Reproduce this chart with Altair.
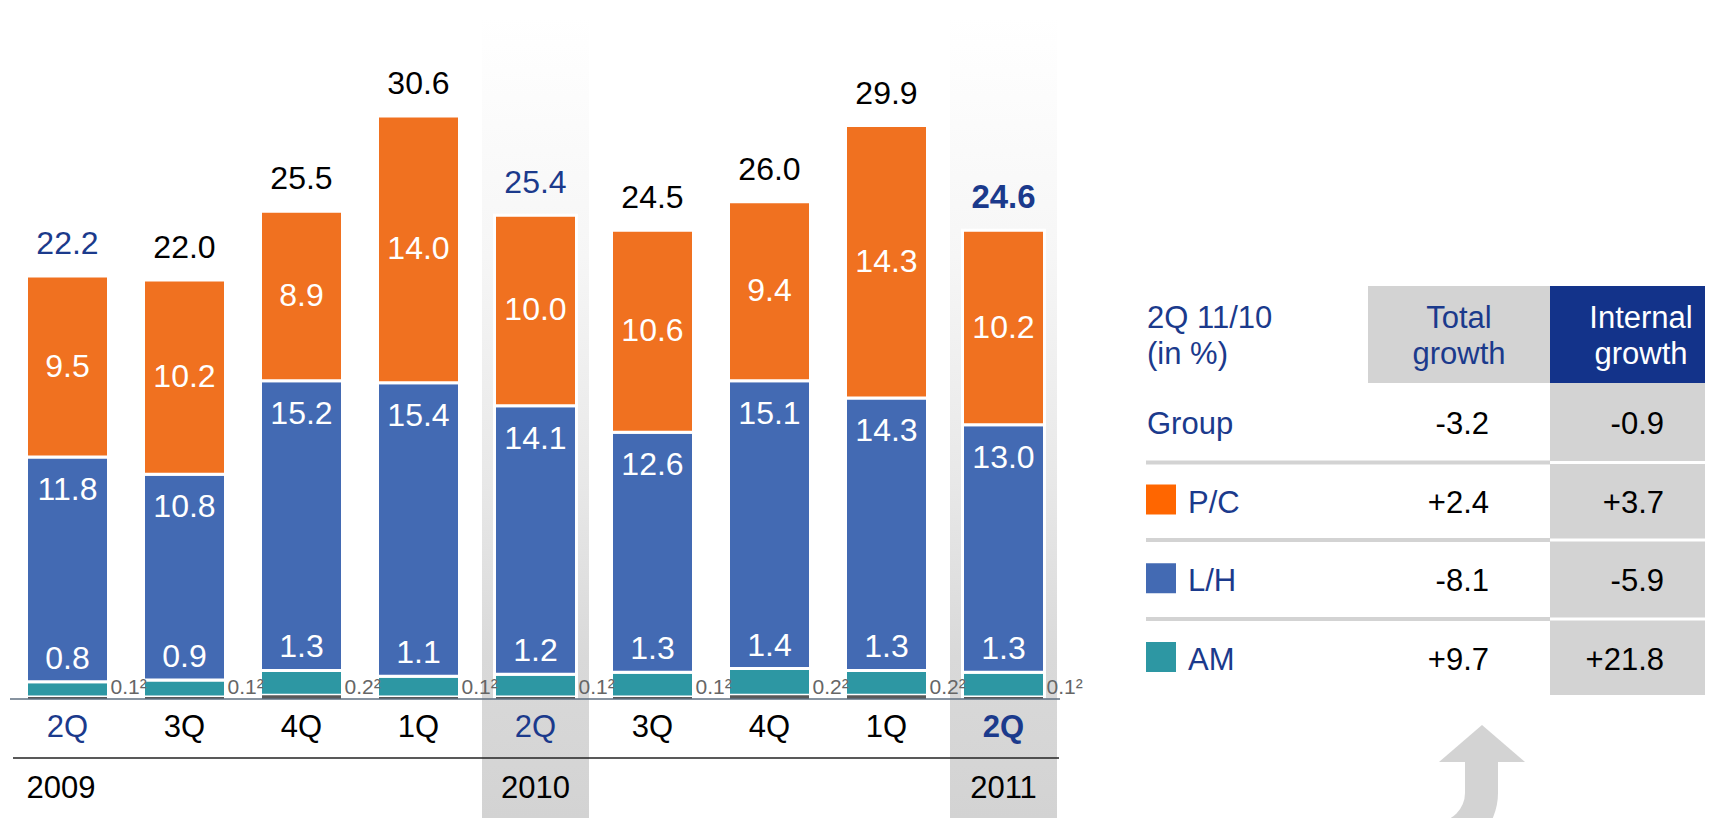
import math
import altair as alt
import pandas as pd

# ---------------- data ----------------
keys = ["2Q09", "3Q09", "4Q09", "1Q10", "2Q10", "3Q10", "4Q10", "1Q11", "2Q11"]
quarters = ["2Q", "3Q", "4Q", "1Q", "2Q", "3Q", "4Q", "1Q", "2Q"]
years = ["2009", "", "", "", "2010", "", "", "", "2011"]
other = [0.1, 0.1, 0.2, 0.1, 0.1, 0.1, 0.2, 0.2, 0.1]
am = [0.8, 0.9, 1.3, 1.1, 1.2, 1.3, 1.4, 1.3, 1.3]
lh = [11.8, 10.8, 15.2, 15.4, 14.1, 12.6, 15.1, 14.3, 13.0]
pc = [9.5, 10.2, 8.9, 14.0, 10.0, 10.6, 9.4, 14.3, 10.2]
totals = [22.2, 22.0, 25.5, 30.6, 25.4, 24.5, 26.0, 29.9, 24.6]
shaded_keys = ["2Q10", "2Q11"]
latest = "2Q11"

table_rows = ["Group", "P/C", "L/H", "AM"]
total_growth = ["-3.2", "+2.4", "-8.1", "+9.7"]
internal_growth = ["-0.9", "+3.7", "-5.9", "+21.8"]

# ---------------- styles ----------------
FONT = "Liberation Sans"
NAVY = "#1B3A8C"
NAVY_BOX = "#13338A"
GRAY = "#D3D3D3"
seg_names = ["Other", "AM", "L/H", "P/C"]
seg_colors = ["#595959", "#2D97A3", "#436AB3", "#F07120"]
legend_colors = ["#FF6600", "#436AB3", "#2D97A3"]

# ---------------- frames ----------------
bar_df = pd.DataFrame({"key": keys, "quarter": quarters, "year": years,
                       "other": other, "am": am, "lh": lh, "pc": pc, "total": totals})
bar_df["am_top"] = bar_df["other"] + bar_df["am"]
bar_df["lh_top"] = bar_df["am_top"] + bar_df["lh"]
bar_df["pc_top"] = bar_df["lh_top"] + bar_df["pc"]
bar_df["total_lbl"] = bar_df["total"].map(lambda v: f"{v:.1f}")
bar_df["am_lbl"] = bar_df["am"].map(lambda v: f"{v:.1f}")
bar_df["lh_lbl"] = bar_df["lh"].map(lambda v: f"{v:.1f}")
bar_df["pc_lbl"] = bar_df["pc"].map(lambda v: f"{v:.1f}")
bar_df["other_lbl"] = bar_df["other"].map(lambda v: f"{v:.1f}\u00b2")

seg_rows = []
for i, k in enumerate(keys):
    base = 0.0
    for name, vals in zip(seg_names, [other, am, lh, pc]):
        seg_rows.append({"key": k, "seg": name, "y0": base, "y1": base + vals[i]})
        base += vals[i]
seg_df = pd.DataFrame(seg_rows)

shade_df = bar_df[bar_df["key"].isin(shaded_keys)]
year_df = bar_df[bar_df["year"] != ""]
tab_df = pd.DataFrame({"row": table_rows, "tg": total_growth, "ig": internal_growth})
dummy = pd.DataFrame({"a": [0]})

# ---------------- scales ----------------
x_scale = alt.Scale(domain=keys, range=[1, 1054], paddingInner=0.2991, paddingOuter=0.14955)
y_scale = alt.Scale(domain=[0, 30], range=[691, 119.5], nice=False, zero=False)
X = alt.X("key:N", scale=x_scale, axis=None)
row_scale = alt.Scale(domain=table_rows, range=[426, 662], padding=0)
sq_scale = alt.Scale(domain=table_rows[1:], range=[491.5, 649], padding=0)

is2q = alt.datum.quarter == "2Q"
lab_color = alt.condition(is2q, alt.value(NAVY), alt.value("black"))

grad = alt.LinearGradient(gradient="linear", x1=0, y1=0, x2=0, y2=1, stops=[
    alt.GradientStop(color="#ffffff", offset=0),
    alt.GradientStop(color="#f6f6f6", offset=0.3),
    alt.GradientStop(color="#e8e8e8", offset=0.58),
    alt.GradientStop(color="#d9d9d9", offset=0.8),
    alt.GradientStop(color="#d3d3d3", offset=1)])

layers = []

# shaded columns
layers.append(alt.Chart(shade_df).mark_bar(width=107, color=grad).encode(
    x=X, y=alt.value(9), y2=alt.value(810)))

# stacked segments
seg_color = alt.Color("seg:N", scale=alt.Scale(domain=seg_names, range=seg_colors), legend=None)
layers.append(alt.Chart(seg_df).transform_filter("datum.seg != 'Other'").mark_bar(
    stroke="white", strokeWidth=3).encode(
    x=X, y=alt.Y("y1:Q", scale=y_scale, axis=None), y2="y0:Q", color=seg_color))
layers.append(alt.Chart(seg_df).transform_filter("datum.seg == 'Other'").mark_bar(
    width=79, strokeWidth=0).encode(
    x=X, y=alt.Y("y1:Q", scale=y_scale, axis=None), y2="y0:Q", color=seg_color))

# axis lines
layers.append(alt.Chart(dummy).mark_rule(color="#5F6F80", strokeWidth=1.5).encode(
    x=alt.value(2), x2=alt.value(1052), y=alt.value(691)))
layers.append(alt.Chart(dummy).mark_rule(color="#222222", strokeWidth=1.5).encode(
    x=alt.value(5), x2=alt.value(1051), y=alt.value(750)))

# total labels
txt = dict(font=FONT, fontSize=32)
layers.append(alt.Chart(bar_df).transform_filter(f"datum.key != '{latest}'").mark_text(
    baseline="alphabetic", dy=-22, **txt).encode(
    x=X, y=alt.Y("pc_top:Q", scale=y_scale, axis=None), text="total_lbl:N", color=lab_color))
layers.append(alt.Chart(bar_df).transform_filter(f"datum.key == '{latest}'").mark_text(
    baseline="alphabetic", dy=-22, fontWeight="bold", font=FONT, fontSize=33, color=NAVY).encode(
    x=X, y=alt.Y("pc_top:Q", scale=y_scale, axis=None), text="total_lbl:N"))

# in-bar labels
layers.append(alt.Chart(bar_df).transform_calculate(mid="(datum.lh_top + datum.pc_top) / 2").mark_text(
    baseline="middle", color="white", **txt).encode(
    x=X, y=alt.Y("mid:Q", scale=y_scale, axis=None), text="pc_lbl:N"))
layers.append(alt.Chart(bar_df).mark_text(baseline="middle", dy=33, color="white", **txt).encode(
    x=X, y=alt.Y("lh_top:Q", scale=y_scale, axis=None), text="lh_lbl:N"))
layers.append(alt.Chart(bar_df).mark_text(baseline="middle", dy=-23, color="white", **txt).encode(
    x=X, y=alt.Y("am_top:Q", scale=y_scale, axis=None), text="am_lbl:N"))
layers.append(alt.Chart(bar_df).mark_text(baseline="alphabetic", align="left", dx=43,
                                          color="#666666", font=FONT, fontSize=21).encode(
    x=X, y=alt.value(686), text="other_lbl:N"))

# quarter labels
layers.append(alt.Chart(bar_df).transform_filter(f"datum.key != '{latest}'").mark_text(
    baseline="middle", font=FONT, fontSize=31).encode(
    x=X, y=alt.value(720), text="quarter:N", color=lab_color))
layers.append(alt.Chart(bar_df).transform_filter(f"datum.key == '{latest}'").mark_text(
    baseline="middle", font=FONT, fontSize=31, fontWeight="bold", color=NAVY).encode(
    x=X, y=alt.value(720), text="quarter:N"))

# year labels
layers.append(alt.Chart(year_df.iloc[:1]).mark_text(
    baseline="middle", align="left", dx=-41, font=FONT, fontSize=31, color="black").encode(
    x=X, y=alt.value(781), text="year:N"))
layers.append(alt.Chart(year_df.iloc[1:]).mark_text(
    baseline="middle", font=FONT, fontSize=31, color="black").encode(
    x=X, y=alt.value(781), text="year:N"))

# ---------------- table ----------------
def box(x1, x2, y1, y2, color):
    return alt.Chart(dummy).mark_rect(color=color).encode(
        x=alt.value(x1), x2=alt.value(x2), y=alt.value(y1), y2=alt.value(y2))

def label(text, x, y, color, align="left"):
    return alt.Chart(dummy).mark_text(text=text, align=align, baseline="alphabetic",
                                      font=FONT, fontSize=31, color=color).encode(
        x=alt.value(x), y=alt.value(y))

layers.append(box(1360, 1542, 278, 375, GRAY))
layers.append(box(1542, 1697, 278, 375, NAVY_BOX))
layers.append(box(1542, 1697, 375, 687, GRAY))
for ysep in [454.5, 532, 611]:
    layers.append(alt.Chart(dummy).mark_rule(color=GRAY, strokeWidth=4).encode(
        x=alt.value(1138), x2=alt.value(1542), y=alt.value(ysep)))
    layers.append(alt.Chart(dummy).mark_rule(color="white", strokeWidth=3).encode(
        x=alt.value(1542), x2=alt.value(1697), y=alt.value(ysep)))

layers.append(label("2Q 11/10", 1139, 320, NAVY))
layers.append(label("(in %)", 1139, 356, NAVY))
layers.append(label("Total", 1451, 320, NAVY, "center"))
layers.append(label("growth", 1451, 356, NAVY, "center"))
layers.append(label("Internal", 1633, 320, "white", "center"))
layers.append(label("growth", 1633, 356, "white", "center"))

rowY = alt.Y("row:N", scale=row_scale, axis=None)
tab_txt = dict(baseline="alphabetic", font=FONT, fontSize=31)
layers.append(alt.Chart(tab_df).transform_filter("datum.row == 'Group'").mark_text(
    align="left", color=NAVY, **tab_txt).encode(x=alt.value(1139), y=rowY, text="row:N"))
layers.append(alt.Chart(tab_df).transform_filter("datum.row != 'Group'").mark_text(
    align="left", color=NAVY, **tab_txt).encode(x=alt.value(1180), y=rowY, text="row:N"))
layers.append(alt.Chart(tab_df).mark_text(align="right", color="black", **tab_txt).encode(
    x=alt.value(1481), y=rowY, text="tg:N"))
layers.append(alt.Chart(tab_df).mark_text(align="right", color="black", **tab_txt).encode(
    x=alt.value(1656), y=rowY, text="ig:N"))
layers.append(alt.Chart(tab_df).transform_filter("datum.row != 'Group'").mark_square(
    size=900, opacity=1, filled=True).encode(
    x=alt.value(1153), y=alt.Y("row:N", scale=sq_scale, axis=None),
    color=alt.Color("row:N", scale=alt.Scale(domain=table_rows[1:], range=legend_colors), legend=None)))

# arrow (shaft, curve into the bottom band, head)
layers.append(box(1457, 1490, 753, 786, GRAY))
layers.append(alt.Chart(dummy).mark_arc(
    innerRadius=29, outerRadius=62, theta=math.pi / 2, theta2=math.pi, color=GRAY).encode(
    x=alt.value(1428), y=alt.value(785)))
layers.append(alt.Chart(dummy).mark_point(
    shape="M -1 0.43 L 0 -0.43 L 1 0.43 Z", size=7396, filled=True, opacity=1,
    color=GRAY, strokeWidth=0).encode(x=alt.value(1474), y=alt.value(735.5)))

chart = alt.layer(*layers).resolve_scale(
    x="independent", y="independent", color="independent"
).properties(
    width=1697, height=810, autosize=alt.AutoSizeParams(type="none"), padding=0
).configure_view(stroke=None)

chart.save("out.html", embed_options={"renderer": "svg", "actions": False})
